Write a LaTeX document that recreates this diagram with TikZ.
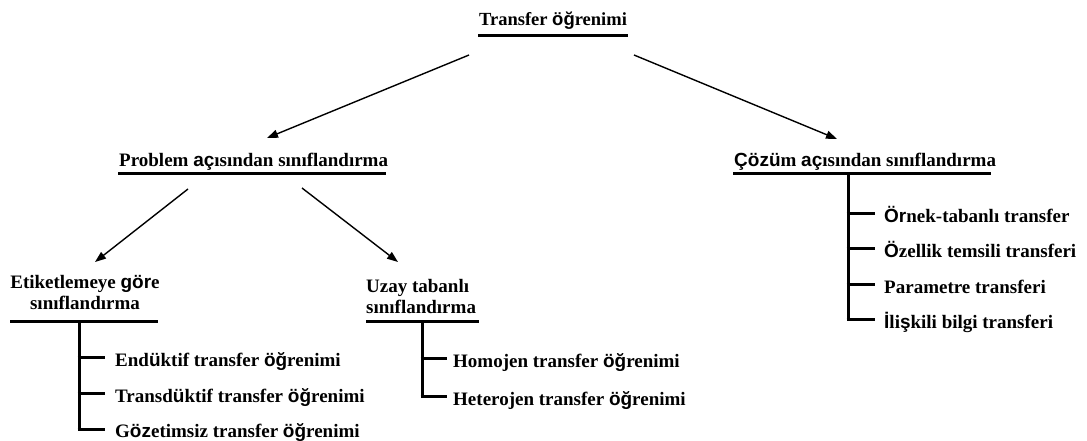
\documentclass[tikz,border=0pt]{standalone}
\usepackage{fontspec}
\setmainfont{Liberation Serif}[Ligatures=CommonOff]
\newfontfamily\altsans{Liberation Sans}
\usetikzlibrary{arrows.meta}
% glyphs set in the bold sans face
\newcommand\fb[1]{{\altsans\bfseries #1}}
\begin{document}
\begin{tikzpicture}[x=1pt,y=-1pt,
  every node/.style={font=\fontsize{19}{21}\selectfont\bfseries, inner sep=0pt},
  lbl/.style={anchor=base west},
  rule/.style={line width=3pt},
  tick/.style={line width=3pt},
  arr/.style={line width=1.4pt,-{Triangle[length=11pt,width=8pt]}}]
\useasboundingbox (0,0) rectangle (1087,441);

% headings
\node[anchor=base, font=\fontsize{18.5}{21}\selectfont\bfseries] (root) at (553,26) {Transfer \fb{öğ}renimi};
\node[lbl] (prob) at (119,166) {Problem \fb{aç}ısından sınıflandırma};
\node[lbl] (coz) at (734,166) {\fb{Çözü}m \fb{aç}ısından sınıflandırma};
\node[anchor=base, align=center] (etik) at (85,309) {Etiketlemeye \fb{gör}e\\sınıflandırma};
\node[anchor=base west, align=left] (uzay) at (366,313) {Uzay tabanlı\\sınıflandırma};

% underlines
\draw[rule] (478,36) -- (628,36);
\draw[rule] (118,173) -- (386,173);
\draw[rule] (733,173) -- (991,173);
\draw[rule] (10,321) -- (158,321);
\draw[rule] (366,321) -- (479,321);

% arrows between levels
\coordinate (r1) at (469,55);  \coordinate (p1) at (267,138);
\coordinate (r2) at (634,55);  \coordinate (c1) at (837,139);
\coordinate (q1) at (188,189); \coordinate (e1) at (95,262);
\coordinate (q2) at (302,188); \coordinate (u1) at (398,262);
\draw[arr] (r1) -- (p1);
\draw[arr] (r2) -- (c1);
\draw[arr] (q1) -- (e1);
\draw[arr] (q2) -- (u1);

% list under Etiketlemeye
\draw[tick] (79,321) -- (79,430.5);
\foreach \yy in {357,393,429} \draw[tick] (77.5,\yy) -- (105,\yy);
\node[lbl] (e2) at (115,366) {End\fb{ü}ktif transfer \fb{öğ}renimi};
\node[lbl] (e3) at (115,402) {Transd\fb{ü}ktif transfer \fb{öğ}renimi};
\node[lbl] (e4) at (115,437) {G\fb{öz}etimsiz transfer \fb{öğ}renimi};

% list under Uzay
\draw[tick] (422,321) -- (422,397.5);
\foreach \yy in {358,396} \draw[tick] (420.5,\yy) -- (447,\yy);
\node[lbl] (u2) at (453,367) {Homojen transfer \fb{öğ}renimi};
\node[lbl] (u3) at (453,405) {Heterojen transfer \fb{öğ}renimi};

% list under Çözüm
\draw[tick] (848,173) -- (848,320.5);
\foreach \yy in {213,248,284,319} \draw[tick] (846.5,\yy) -- (875,\yy);
\node[lbl] (c2) at (884,222) {\fb{Ör}nek-tabanlı transfer};
\node[lbl] (c3) at (884,257) {\fb{Ö}zellik temsili transferi};
\node[lbl] (c4) at (884,293) {Parametre transferi};
\node[lbl] (c5) at (884,328) {\fb{İ}li\fb{ş}kili bilgi transferi};
\end{tikzpicture}
\end{document}
